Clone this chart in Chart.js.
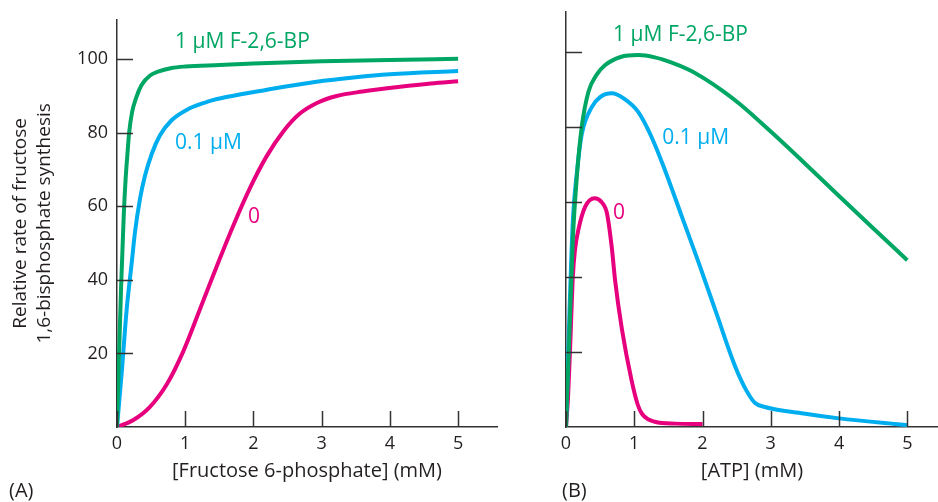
<!DOCTYPE html>
<html>
<head>
<meta charset="utf-8">
<script src="https://cdn.jsdelivr.net/npm/chart.js@4"></script>
<style>
  body { margin: 0; background: #fff; width: 938px; height: 502px; position: relative; overflow: hidden; }
  canvas { position: absolute; top: 0; }
  #chartA { left: 0; }
  #chartB { left: 470px; }
  .panel { position: absolute; top: 478px; font: 20px "Open Sans", sans-serif; color: #231f20; line-height: 24px; }
</style>
</head>
<body>
<canvas id="chartA" width="500" height="502"></canvas>
<canvas id="chartB" width="468" height="502"></canvas>
<div class="panel" style="left:9px">(A)</div>
<div class="panel" style="left:562px">(B)</div>
<script>
// ---- data ----
const xTicks = [0, 1, 2, 3, 4, 5];
const yTicks = [20, 40, 60, 80, 100];

// panel A: rate vs [fructose 6-phosphate] (mM)
const f6pHigh = [[0,0],[0.03,20],[0.06,38],[0.08,48],[0.1,58],[0.125,67],[0.15,73.5],[0.178,80],[0.22,85.5],[0.28,89.5],[0.36,93],[0.48,95.5],[0.6,96.6],[0.8,97.6],[1,98],[1.5,98.4],[2,98.8],[3,99.4],[4,99.8],[5,100.1]];
const f6pLow = [[0,0],[0.07,15],[0.142,32],[0.215,44.5],[0.264,53],[0.337,62],[0.41,68.3],[0.51,74.3],[0.63,79.3],[0.8,83.4],[1.05,86.5],[1.34,88.5],[1.6,89.7],[2.2,91.7],[2.9,93.8],[3.5,95.1],[4,95.9],[5,96.8]];
const f6pNone = [[0,0],[0.24,1.9],[0.48,5.4],[0.73,11.6],[0.97,20.5],[1.22,32.2],[1.49,45],[1.71,55],[1.95,65],[2.19,73.5],[2.44,80.4],[2.68,85.2],[2.93,88.1],[3.22,90],[3.6,91.2],[4.15,92.5],[4.6,93.4],[5,94]];

// panel B: rate vs [ATP] (mM)
const atpHigh = [[0,0],[0.05,25],[0.1,50],[0.16,67],[0.23,80],[0.33,89.5],[0.45,94],[0.57,96.5],[0.8,98.7],[1.06,99.2],[1.3,98.6],[1.55,97.2],[1.8,95.3],[2.04,92.8],[2.3,89.6],[2.55,86.1],[3,78.8],[3.5,70.3],[4,61.6],[4.5,53],[5,44.5]];
const atpLow = [[0,0],[0.05,30],[0.1,55],[0.16,68],[0.23,78],[0.38,85.4],[0.5,88],[0.67,89],[0.85,87.6],[1.06,84],[1.25,77.5],[1.45,68.5],[1.7,56],[1.95,43.5],[2.2,30.5],[2.48,16.1],[2.65,9.5],[2.77,6.4],[2.9,5.4],[3.48,3.6],[4,2.3],[5,0.5]];
const atpNone = [[0,0],[0.03,8],[0.06,21],[0.1,40],[0.13,47],[0.18,52.5],[0.28,58.7],[0.42,61],[0.52,60],[0.6,57],[0.67,48],[0.72,39],[0.82,26],[0.96,12.5],[1.05,6],[1.11,3.6],[1.3,1.4],[1.6,0.9],[2,0.8]];

const seriesNames = ["1 \u03bcM F-2,6-BP", "0.1 \u03bcM", "0"];

const GREEN = "#00a664";
const BLUE = "#00aeef";
const PINK = "#e6007e";
const AXIS = "#333333";
const TEXT = "#231f20";
const FONT = '"Open Sans", sans-serif';

// curve label anchors (data coords of the label's left/middle)
const labelsA = [[0.85, 104.6, GREEN], [0.85, 77.2, BLUE], [1.92, 57.2, PINK]];
const labelsB = [[0.69, 104.6, GREEN], [1.41, 77.2, BLUE], [0.69, 57.2, PINK]];

function toPoints(arr) {
  return arr.map(([x, y]) => ({ x, y }));
}

function line(label, data, color) {
  return {
    label: label,
    data: toPoints(data),
    borderColor: color,
    borderWidth: 4,
    pointRadius: 0,
    cubicInterpolationMode: "monotone",
    fill: false,
  };
}

// ticks drawn inward from the axes
const innerTicks = {
  id: "innerTicks",
  afterDatasetsDraw(chart) {
    const { ctx, chartArea, scales } = chart;
    ctx.save();
    ctx.strokeStyle = AXIS;
    ctx.lineWidth = 1.5;
    ctx.beginPath();
    scales.x.ticks.forEach((t) => {
      const px = Math.round(scales.x.getPixelForValue(t.value)) + 0.5;
      ctx.moveTo(px, chartArea.bottom);
      ctx.lineTo(px, chartArea.bottom - 16);
    });
    scales.y.ticks.forEach((t) => {
      const py = Math.round(scales.y.getPixelForValue(t.value)) + 0.5;
      ctx.moveTo(chartArea.left, py);
      ctx.lineTo(chartArea.left + 16, py);
    });
    ctx.stroke();
    ctx.restore();
  },
};

const curveLabels = {
  id: "curveLabels",
  afterDatasetsDraw(chart, args, opts) {
    const { ctx, scales } = chart;
    ctx.save();
    ctx.font = "21px " + FONT;
    ctx.textBaseline = "middle";
    ctx.textAlign = "left";
    opts.items.forEach(([x, y, color], i) => {
      ctx.fillStyle = color;
      ctx.fillText(seriesNames[i], scales.x.getPixelForValue(x), scales.y.getPixelForValue(y));
    });
    ctx.restore();
  },
};

function makeChart(canvasId, datasets, cfg) {
  return new Chart(document.getElementById(canvasId), {
    type: "line",
    data: { datasets: datasets },
    plugins: [innerTicks, curveLabels],
    options: {
      responsive: false,
      animation: false,
      layout: { padding: { top: 12, right: cfg.padRight, left: 0, bottom: 0 } },
      plugins: {
        legend: { display: false },
        tooltip: { enabled: false },
        curveLabels: { items: cfg.labels },
      },
      scales: {
        x: {
          type: "linear",
          min: 0,
          max: cfg.xMax,
          afterBuildTicks: (scale) => { scale.ticks = xTicks.map((v) => ({ value: v })); },
          afterFit: (scale) => { scale.height = 75; },
          grid: { display: false, drawTicks: false },
          border: { display: true, color: AXIS, width: 1.5 },
          ticks: { padding: 6, color: TEXT, font: { family: FONT, size: 18 }, maxRotation: 0 },
          title: {
            display: true,
            text: cfg.xTitle,
            color: TEXT,
            font: { family: FONT, size: 20 },
            padding: { top: 0, bottom: 19 },
          },
        },
        y: {
          type: "linear",
          min: 0,
          max: 110.7,
          afterBuildTicks: (scale) => { scale.ticks = yTicks.map((v) => ({ value: v })); },
          afterFit: (scale) => { scale.width = cfg.yWidth; },
          grid: { display: false, drawTicks: false },
          border: { display: true, color: AXIS, width: 1.5 },
          ticks: { display: cfg.yLabels, padding: 9, color: TEXT, font: { family: FONT, size: 18 } },
          title: {
            display: cfg.yLabels,
            text: ["Relative rate of fructose", "1,6-bisphosphate synthesis"],
            color: TEXT,
            font: { family: FONT, size: 19, lineHeight: 1.3 },
            padding: { top: 8, bottom: 0 },
          },
        },
      },
    },
  });
}

makeChart("chartA", [
  line(seriesNames[0], f6pHigh, GREEN),
  line(seriesNames[1], f6pLow, BLUE),
  line(seriesNames[2], f6pNone, PINK),
], { xMax: 5.57, padRight: 3, yWidth: 117, yLabels: true, labels: labelsA, xTitle: "[Fructose 6-phosphate] (mM)" });

makeChart("chartB", [
  line(seriesNames[0], atpHigh, GREEN),
  line(seriesNames[1], atpLow, BLUE),
  line(seriesNames[2], atpNone, PINK),
], { xMax: 5.45, padRight: 0, yWidth: 96, yLabels: false, labels: labelsB, xTitle: "[ATP] (mM)" });
</script>
</body>
</html>
